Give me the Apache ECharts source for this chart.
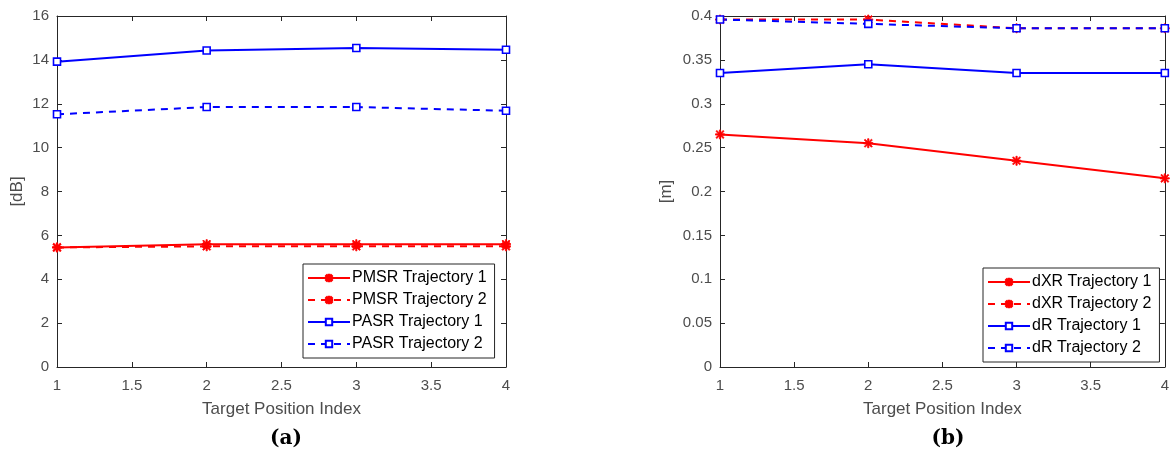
<!DOCTYPE html>
<html>
<head>
<meta charset="utf-8">
<script src="https://cdn.jsdelivr.net/npm/echarts@6/dist/echarts.min.js"></script>
<style>
  html, body { margin: 0; padding: 0; background: #fff; }
  #container { width: 1172px; height: 454px; }
</style>
</head>
<body>
<div id="container"></div>
<script>
// target position index (x)
var positions = [1, 2, 3, 4];

// (a) ratios in dB
var pmsrTraj1 = [5.45, 5.6, 5.6, 5.6];
var pmsrTraj2 = [5.45, 5.5, 5.5, 5.5];
var pasrTraj1 = [13.92, 14.43, 14.54, 14.46];
var pasrTraj2 = [11.52, 11.85, 11.85, 11.68];

// (b) resolutions in m
var dxrTraj1 = [0.265, 0.255, 0.235, 0.215];
var dxrTraj2 = [0.396, 0.396, 0.386, 0.386];
var drTraj1 = [0.335, 0.345, 0.335, 0.335];
var drTraj2 = [0.396, 0.391, 0.386, 0.386];

var namesA = ['PMSR Trajectory 1', 'PMSR Trajectory 2', 'PASR Trajectory 1', 'PASR Trajectory 2'];
var namesB = ['dXR Trajectory 1', 'dXR Trajectory 2', 'dR Trajectory 1', 'dR Trajectory 2'];

var dom = document.getElementById('container');
var myChart = echarts.init(dom, null, { renderer: 'canvas' });

var axisColor = '#262626';
var labelColor = '#4d4d4d';
var font = '"Liberation Sans", Arial, sans-serif';

// asterisk marker like matlab '*'
var star = 'path://M4.3,0 L5.7,0 L5.7,10 L4.3,10 Z M0,4.3 L10,4.3 L10,5.7 L0,5.7 Z ' +
  'M1.5,0.5 L9.5,8.5 L8.5,9.5 L0.5,1.5 Z M8.5,0.5 L9.5,1.5 L1.5,9.5 L0.5,8.5 Z';

function pts(vals) {
  return positions.map(function (x, i) { return [x, vals[i]]; });
}

function mkSeries(name, vals, idx, color, dashed, marker) {
  var isStar = marker === 'star';
  return {
    name: name,
    type: 'line',
    xAxisIndex: idx * 2,
    yAxisIndex: idx * 2,
    data: pts(vals),
    symbol: isStar ? star : 'rect',
    symbolSize: isStar ? 9 : 7,
    showAllSymbol: true,
    lineStyle: { color: color, width: 2, type: dashed ? [7, 6] : 'solid' },
    itemStyle: isStar
      ? { color: color, borderColor: color, borderWidth: 0.8 }
      : { color: '#ffffff', borderColor: color, borderWidth: 1.6 },
    emphasis: { disabled: true },
    animation: false,
    z: 3
  };
}

function xAxes(gi) {
  return [
    {
      type: 'value', gridIndex: gi, min: 1, max: 4, interval: 0.5,
      name: 'Target Position Index', nameLocation: 'middle', nameGap: 34,
      nameTextStyle: { color: labelColor, fontSize: 17, fontFamily: font },
      axisLine: { show: true, onZero: false, lineStyle: { color: axisColor } },
      axisTick: { inside: true, length: 5, lineStyle: { color: axisColor } },
      axisLabel: { color: labelColor, fontSize: 15, fontFamily: font, margin: 11 },
      splitLine: { show: false }
    },
    {
      type: 'value', gridIndex: gi, position: 'top', min: 1, max: 4, interval: 0.5,
      axisLine: { show: true, onZero: false, lineStyle: { color: axisColor } },
      axisTick: { inside: true, length: 5, lineStyle: { color: axisColor } },
      axisLabel: { show: false },
      splitLine: { show: false }
    }
  ];
}

function yAxes(gi, max, interval, name, fmt) {
  return [
    {
      type: 'value', gridIndex: gi, min: 0, max: max, interval: interval,
      name: name, nameLocation: 'middle', nameGap: gi === 0 ? 31 : 45,
      nameTextStyle: { color: labelColor, fontSize: 17, fontFamily: font },
      axisLine: { show: true, onZero: false, lineStyle: { color: axisColor } },
      axisTick: { inside: true, length: 5, lineStyle: { color: axisColor } },
      axisLabel: { color: labelColor, fontSize: 15, fontFamily: font, margin: 8, formatter: fmt },
      splitLine: { show: false }
    },
    {
      type: 'value', gridIndex: gi, position: 'right', min: 0, max: max, interval: interval,
      axisLine: { show: true, onZero: false, lineStyle: { color: axisColor } },
      axisTick: { inside: true, length: 5, lineStyle: { color: axisColor } },
      axisLabel: { show: false },
      splitLine: { show: false }
    }
  ];
}

function legendAt(names, left, top, width) {
  return {
    data: names,
    orient: 'vertical',
    left: left, top: top,
    width: width,
    padding: [5, 8, 5, 4],
    itemGap: 4,
    itemWidth: 42, itemHeight: 8,
    backgroundColor: '#ffffff',
    borderColor: axisColor, borderWidth: 1, borderRadius: 0,
    textStyle: { color: '#000000', fontSize: 16, fontFamily: font, padding: [0, 0, 0, -3], lineHeight: 18 },
    selectedMode: false
  };
}

var option = {
  backgroundColor: '#ffffff',
  animation: false,
  title: [
    { text: '(a)', left: 281, top: 424, textAlign: 'center',
      textStyle: { fontSize: 20, fontWeight: 'bold', color: '#000', fontFamily: '"DejaVu Serif", "Liberation Serif", serif' } },
    { text: '(b)', left: 943, top: 424, textAlign: 'center',
      textStyle: { fontSize: 20, fontWeight: 'bold', color: '#000', fontFamily: '"DejaVu Serif", "Liberation Serif", serif' } }
  ],
  grid: [
    { left: 57, top: 16, width: 449, height: 351, show: true, borderColor: axisColor, borderWidth: 0 },
    { left: 720, top: 16, width: 449, height: 351, show: true, borderColor: axisColor, borderWidth: 0 }
  ],
  legend: [
    legendAt(namesA, 303, 264, 195),
    legendAt(namesB, 983, 268, 180)
  ],
  xAxis: xAxes(0).concat(xAxes(1)),
  yAxis: yAxes(0, 16, 2, '[dB]').concat(yAxes(1, 0.4, 0.05, '[m]', function (v) {
    return v === 0 ? '0' : String(Math.round(v * 100) / 100);
  })),
  series: [
    mkSeries(namesA[0], pmsrTraj1, 0, '#ff0000', false, 'star'),
    mkSeries(namesA[1], pmsrTraj2, 0, '#ff0000', true, 'star'),
    mkSeries(namesA[2], pasrTraj1, 0, '#0000ff', false, 'rect'),
    mkSeries(namesA[3], pasrTraj2, 0, '#0000ff', true, 'rect'),
    mkSeries(namesB[0], dxrTraj1, 1, '#ff0000', false, 'star'),
    mkSeries(namesB[1], dxrTraj2, 1, '#ff0000', true, 'star'),
    mkSeries(namesB[2], drTraj1, 1, '#0000ff', false, 'rect'),
    mkSeries(namesB[3], drTraj2, 1, '#0000ff', true, 'rect')
  ]
};

myChart.setOption(option);
window.addEventListener('resize', myChart.resize);
</script>
</body>
</html>
